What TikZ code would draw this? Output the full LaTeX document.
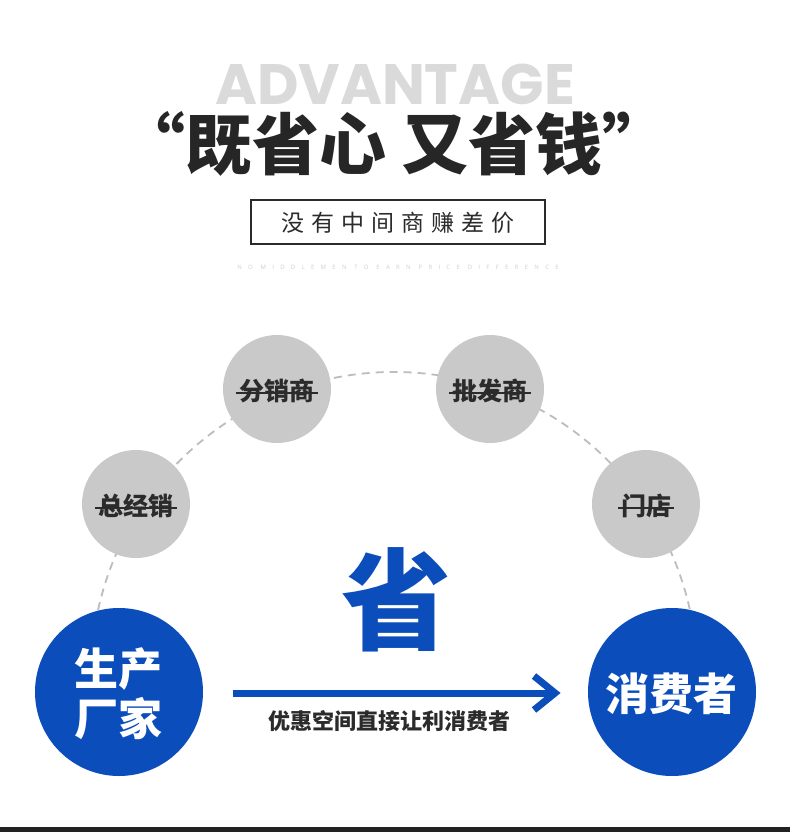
\documentclass[tikz,border=0pt]{standalone}
\usepackage{fontspec}
\newfontfamily\cjk{Noto Sans CJK SC}
\newfontfamily\pop{Poppins}
\newfontfamily\lat{Open Sans}
\usetikzlibrary{calc}
\definecolor{cblue}{HTML}{0A4DBB}
\definecolor{cgray}{HTML}{C9C9C9}
\definecolor{cdash}{HTML}{BDBDBD}
\definecolor{ctitle}{HTML}{262626}
\definecolor{cadv}{HTML}{DADADA}
\definecolor{ctext}{HTML}{2B2B2B}
\definecolor{ctiny}{HTML}{CFCFCF}
\definecolor{cbar}{HTML}{222222}
\tikzset{
  graycirc/.style={circle, fill=cgray, minimum size=108pt, inner sep=0pt},
  graylabel/.style={inner xsep=3pt, inner ysep=0pt, text=ctext, font=\cjk\bfseries\fontsize{25pt}{27pt}\selectfont},
  strike/.style={draw=ctext, line width=1.4pt},
  bluecirc/.style={circle, fill=cblue, minimum size=168pt, inner sep=0pt},
  bluelabel/.style={text=white, align=center, inner sep=0pt, font=\cjk\bfseries\fontsize{44pt}{50pt}\selectfont},
  dasharc/.style={draw=cdash, line width=1.8pt, dash pattern=on 8pt off 6pt},
  bluearrow/.style={draw=cblue, line width=7pt},
}
\begin{document}
\begin{tikzpicture}[x=1pt,y=-1pt]
\useasboundingbox (0,0) rectangle (790,832);
\fill[white] (0,0) rectangle (790,832);
% header
\node[anchor=base, text=cadv, inner sep=0pt, text depth=0pt, font=\pop\bfseries\fontsize{57pt}{60pt}\selectfont] (adv) at (395,105) {ADVANTAGE};
\node[text=ctitle, inner sep=0pt, font=\cjk\bfseries\fontsize{67pt}{70pt}\selectfont] (title) at (394,144) {“既省心 又省钱”};
\node[draw=ctext, line width=1.5pt, minimum width=294pt, minimum height=44pt, inner sep=0pt] (box) at (398,222) {};
\node[text=ctext, inner sep=0pt, font=\cjk\fontsize{23pt}{25pt}\selectfont\addfontfeature{LetterSpace=30}] (boxt) at (398,223) {没有中间商赚差价};
\node[text=ctiny, inner sep=0pt, font=\lat\fontsize{6pt}{7pt}\selectfont\addfontfeature{LetterSpace=105}] (tiny) at (398,267) {NO MIDDLEMEN TO EARN PRICE DIFFERENCE};
% dashed arc
\coordinate (arcC) at (394,675);
\draw[dasharc] ($(arcC)+(-167.6:303)$) arc[start angle=-167.6, end angle=-12.4, radius=303];
% gray circles
\node[graycirc] (zjx) at (136,504) {};
\node[graycirc] (fxs) at (277,389) {};
\node[graycirc] (pfs) at (490,389) {};
\node[graycirc] (md) at (646,504) {};
\node[graylabel] (zjxt) at (136,506) {总经销};
\node[graylabel] (fxst) at (277,391) {分销商};
\node[graylabel] (pfst) at (490,391) {批发商};
\node[graylabel] (mdt) at (646,506) {门店};
\foreach \n in {zjxt,fxst,pfst,mdt}{
  \draw[strike] ([yshift=-2pt]\n.west) -- ([yshift=-2pt]\n.east);
}
% blue circles
\node[bluecirc] (maker) at (119,692) {};
\node[bluelabel] (makert) at (118,694) {生产\\厂家};
\node[bluecirc] (cons) at (672,692) {};
\node[bluelabel] (const) at (671,694) {消费者};
% big char
\node[text=cblue, inner sep=0pt, font=\cjk\bfseries\fontsize{110pt}{112pt}\selectfont] (sheng) at (396,600) {省};
% arrow
\coordinate (arrS) at (233,693);
\coordinate (arrE) at (555,693);
\draw[bluearrow] (arrS) -- (arrE);
\draw[bluearrow] ($(arrE)+(-21,-17)$) -- (arrE) -- ($(arrE)+(-21,17)$);
\node[text=ctext, inner sep=0pt, font=\cjk\bfseries\fontsize{22pt}{24pt}\selectfont] (sub) at (389,721) {优惠空间直接让利消费者};
% bottom bar
\fill[cbar] (0,827) rectangle (790,832);
\end{tikzpicture}
\end{document}
